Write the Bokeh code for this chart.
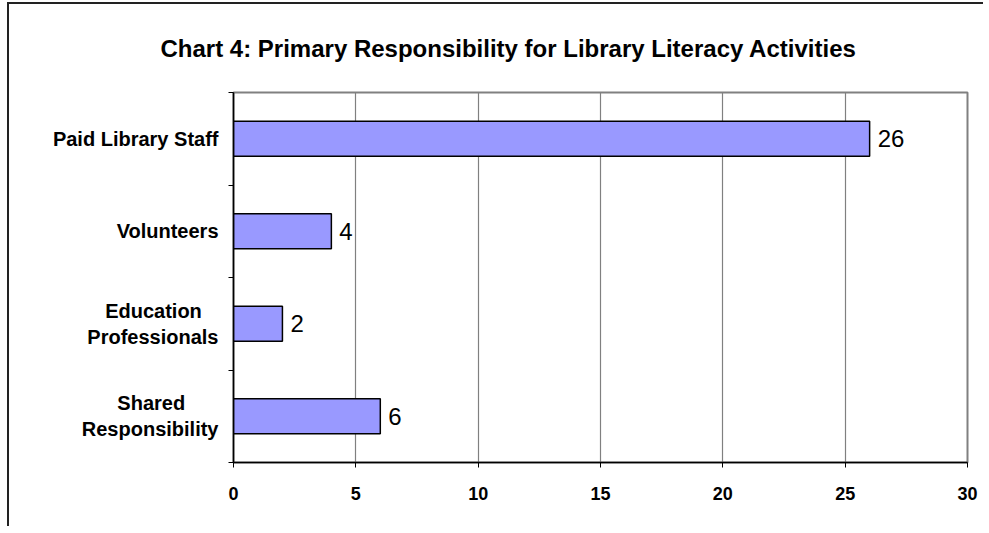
from bokeh.plotting import figure
from bokeh.models import ColumnDataSource, FixedTicker, LabelSet, Range1d
from bokeh.core.properties import value
from bokeh.embed import file_html
from bokeh.resources import INLINE

# ---- data ----
categories = ["Paid Library Staff", "Volunteers", "Education\nProfessionals", "Shared\nResponsibility"]
counts = [26, 4, 2, 6]
x_ticks = [0, 5, 10, 15, 20, 25, 30]
title_text = "Chart 4: Primary Responsibility for Library Literacy Activities"

FONT = "Liberation Sans"
CAT_SIZE = 20

# approximate Liberation Sans Bold advance widths (per 1000 em), used only to centre
# the lines of two-line tick labels (axis labels are right-aligned line by line)
_W = {" ": 278, "a": 556, "b": 611, "c": 556, "d": 611, "e": 556, "f": 333, "h": 611,
      "i": 278, "l": 278, "n": 611, "o": 611, "p": 611, "r": 389, "s": 556, "t": 333,
      "u": 611, "y": 556, "E": 667, "L": 611, "P": 667, "R": 722, "S": 667, "V": 667}


def centre_lines(s):
    lines = s.split("\n")
    widths = [sum(_W.get(ch, 600) for ch in ln) for ln in lines]
    m = max(widths)
    return "\n".join(ln + "\u00a0" * int(round((m - w) / 2.0 / _W[" "])) for ln, w in zip(lines, widths))


n = len(categories)
ypos = [n - i - 0.5 for i in range(n)]
src = ColumnDataSource(dict(y=ypos, v=counts, lab=[str(c) for c in counts]))

p = figure(width=976, height=524, output_backend="svg", toolbar_location=None,
           x_range=Range1d(0, 30), y_range=Range1d(0, n),
           min_border_left=224, min_border_right=18, min_border_top=88, min_border_bottom=66)
p.styles = {"margin-left": "7px", "margin-top": "2px",
            "border-left": "2px solid #222222", "border-top": "2px solid #222222"}

p.title.text = title_text
p.title.text_font = FONT
p.title.text_font_size = "24px"
p.title.text_font_style = "bold"
p.title.text_color = "#000000"
p.title.align = "left"
p.title.vertical_align = "top"
p.title.offset = -73
p.title.standoff = 58

p.hbar(y="y", right="v", left=0, height=0.38, source=src,
       fill_color="#9999FF", line_color="#000000", line_width=1.5)

labels = LabelSet(x="v", y="y", text="lab", source=src, x_offset=8,
                  text_baseline="middle", text_align="left",
                  text_font=value(FONT), text_font_size=value("24px"), text_color="#000000")
p.add_layout(labels)

# x axis
p.xaxis.ticker = FixedTicker(ticks=x_ticks)
p.xaxis.axis_line_color = "#000000"
p.xaxis.axis_line_width = 1.5
p.xaxis.major_tick_in = 0
p.xaxis.major_tick_out = 5
p.xaxis.major_tick_line_color = "#000000"
p.xaxis.minor_tick_line_color = None
p.xaxis.major_label_text_font = FONT
p.xaxis.major_label_text_font_size = "18px"
p.xaxis.major_label_text_font_style = "bold"
p.xaxis.major_label_text_color = "#000000"
p.xaxis.major_label_standoff = 19

# y axis: labels at category centres, tick marks at category boundaries
p.yaxis.ticker = FixedTicker(ticks=ypos, minor_ticks=list(range(n + 1)))
p.yaxis.major_label_overrides = {y: centre_lines(c) for y, c in zip(ypos, categories)}
p.yaxis.axis_line_color = "#000000"
p.yaxis.axis_line_width = 1.5
p.yaxis.major_tick_line_color = None
p.yaxis.major_tick_in = 0
p.yaxis.major_tick_out = 0
p.yaxis.minor_tick_in = 0
p.yaxis.minor_tick_out = 5
p.yaxis.minor_tick_line_color = "#000000"
p.yaxis.major_label_text_font = FONT
p.yaxis.major_label_text_font_size = f"{CAT_SIZE}px"
p.yaxis.major_label_text_font_style = "bold"
p.yaxis.major_label_text_color = "#000000"
p.yaxis.major_label_standoff = 10

p.xgrid.ticker = FixedTicker(ticks=x_ticks[1:-1])
p.xgrid.grid_line_color = "#808080"
p.xgrid.grid_line_width = 1.2
p.ygrid.grid_line_color = None

p.outline_line_color = "#808080"
p.outline_line_width = 2

open("out.html", "w").write(file_html(p, INLINE))
